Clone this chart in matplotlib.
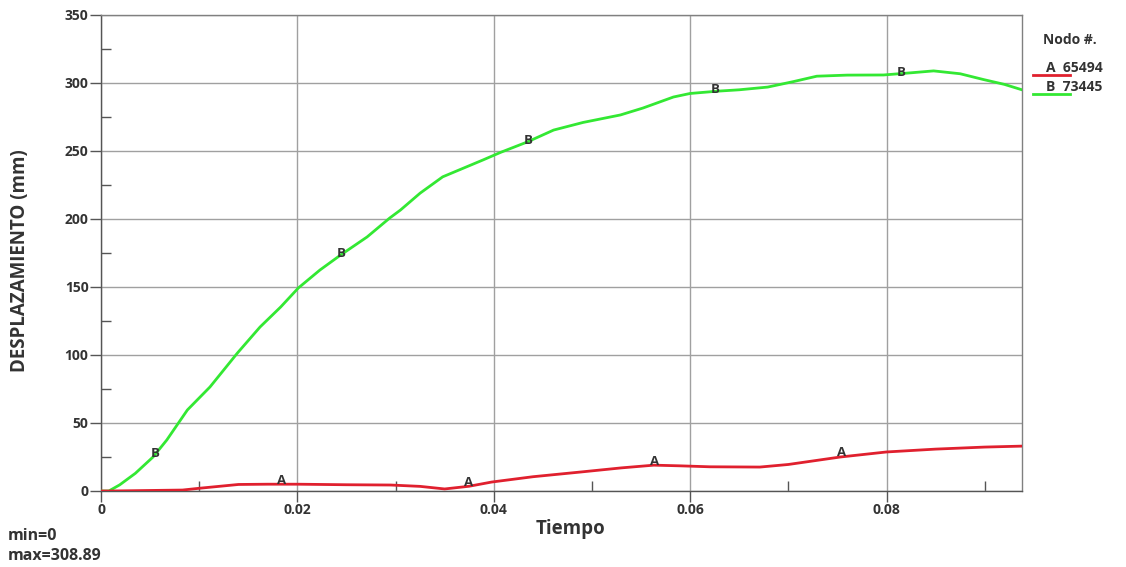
import matplotlib
matplotlib.use("Agg")
import matplotlib.pyplot as plt
from matplotlib.lines import Line2D
from matplotlib.ticker import MultipleLocator
import numpy as np

# Displacement histories of two nodes
time_b = [0.0, 0.0008, 0.0019, 0.0035, 0.0053, 0.0067, 0.0088, 0.0111, 0.0139, 0.0162,
          0.0183, 0.0201, 0.0223, 0.0244, 0.0271, 0.0294, 0.0305, 0.0325, 0.0348, 0.0389,
          0.0407, 0.0434, 0.0461, 0.0491, 0.0529, 0.0552, 0.0583, 0.0600, 0.0628, 0.0650,
          0.0679, 0.0705, 0.0729, 0.0760, 0.0797, 0.0825, 0.0848, 0.0875, 0.0899, 0.0920, 0.0938]
disp_b = [0.0, 0.0, 4.5, 13.0, 25.0, 37.5, 59.6, 76.5, 101.5, 120.6,
          135.3, 149.3, 162.5, 173.5, 186.8, 200.7, 206.6, 219.0, 231.0, 243.4,
          249.0, 256.6, 265.4, 271.0, 276.5, 281.6, 289.7, 292.3, 294.0, 295.0,
          297.0, 301.0, 305.0, 305.8, 305.9, 307.5, 308.9, 306.8, 302.5, 299.0, 295.0]

time_a = [0.0, 0.0009, 0.0083, 0.0100, 0.0140, 0.0170, 0.0200, 0.0250, 0.0295, 0.0325,
          0.0350, 0.0375, 0.0398, 0.0440, 0.0489, 0.0530, 0.0563, 0.0590, 0.0620, 0.0671,
          0.0700, 0.0753, 0.0800, 0.0850, 0.0900, 0.0938]
disp_a = [0.0, 0.0, 0.7, 2.0, 4.8, 5.0, 5.0, 4.6, 4.4, 3.4,
          1.5, 3.5, 6.6, 10.5, 14.0, 17.0, 19.0, 18.5, 17.8, 17.6,
          19.5, 25.0, 28.7, 30.8, 32.3, 33.0]

label_t_a = [0.0184, 0.0374, 0.0564, 0.0754]
label_t_b = [0.0055, 0.0245, 0.0435, 0.0626, 0.0815]

legend_title = "Nodo #."
legend_entries = ["A  65494", "B  73445"]

red = "#e0202e"
green = "#33e833"
txt = "#333333"
font = "Open Sans"

fig = plt.figure(figsize=(11.26, 5.67), dpi=100)
ax = fig.add_axes([101 / 1126, 76 / 567, 921 / 1126, 476 / 567])

ax.plot(time_b, disp_b, color=green, lw=2.0, zorder=3, solid_joinstyle="round")
ax.plot(time_a, disp_a, color=red, lw=2.0, zorder=3, solid_joinstyle="round")

for t in label_t_a:
    ax.text(t, np.interp(t, time_a, disp_a) + 3, "A", ha="center", va="center",
            fontsize=9.5, fontweight="bold", color=txt, family=font, zorder=4)
for t in label_t_b:
    ax.text(t, np.interp(t, time_b, disp_b) + 1, "B", ha="center", va="center",
            fontsize=9.5, fontweight="bold", color=txt, family=font, zorder=4)

ax.set_xlim(0, 0.0938)
ax.set_ylim(0, 350)
ax.xaxis.set_minor_locator(MultipleLocator(0.01))
ax.yaxis.set_major_locator(MultipleLocator(50))
ax.yaxis.set_minor_locator(MultipleLocator(25))
ax.set_xticks([0, 0.02, 0.04, 0.06, 0.08])
ax.set_xticklabels(["0", "0.02", "0.04", "0.06", "0.08"])
ax.tick_params(which="major", direction="out", length=8, width=1, color="#555555",
               labelsize=10, labelcolor=txt, pad=1)
ax.tick_params(which="minor", direction="in", length=7, width=1, color="#555555")
for lab in ax.get_xticklabels() + ax.get_yticklabels():
    lab.set_family(font)
    lab.set_fontweight("bold")

ax.grid(True, which="major", color="#a0a0a0", lw=1.0)
for s in ax.spines.values():
    s.set_color("#808080")
    s.set_linewidth(1.0)
ax.spines["left"].set_color("#555555")
ax.spines["bottom"].set_color("#555555")

ax.set_xlabel("Tiempo", fontsize=13.5, fontweight="bold", color=txt, family=font)
ax.xaxis.set_label_coords(0.51, -0.058)
ax.set_ylabel("DESPLAZAMIENTO (mm)", fontsize=13.5, fontweight="bold", color=txt,
              family=font, va="center")
ax.yaxis.set_label_coords(-81 / 921, 0.485)

fig.text(8 / 1126, 1 - 536 / 567, "min=0", fontsize=11.5, fontweight="bold", color=txt,
         family=font, va="center")
fig.text(8 / 1126, 1 - 556 / 567, "max=308.89", fontsize=11.5, fontweight="bold", color=txt,
         family=font, va="center")

# legend block at the right
fig.text(1043 / 1126, 1 - 40 / 567, legend_title, fontsize=10, fontweight="bold", color=txt,
         family=font, va="center")
for i, (entry, col) in enumerate(zip(legend_entries, [red, green])):
    y = 68 + i * 19
    fig.text(1046 / 1126, 1 - y / 567, entry, fontsize=10, fontweight="bold", color=txt,
             family=font, va="center")
    fig.add_artist(Line2D([1033 / 1126, 1070 / 1126], [1 - (y + 7) / 567] * 2,
                          color=col, lw=2, transform=fig.transFigure))

fig.savefig("out.png", dpi=100, facecolor="white")
